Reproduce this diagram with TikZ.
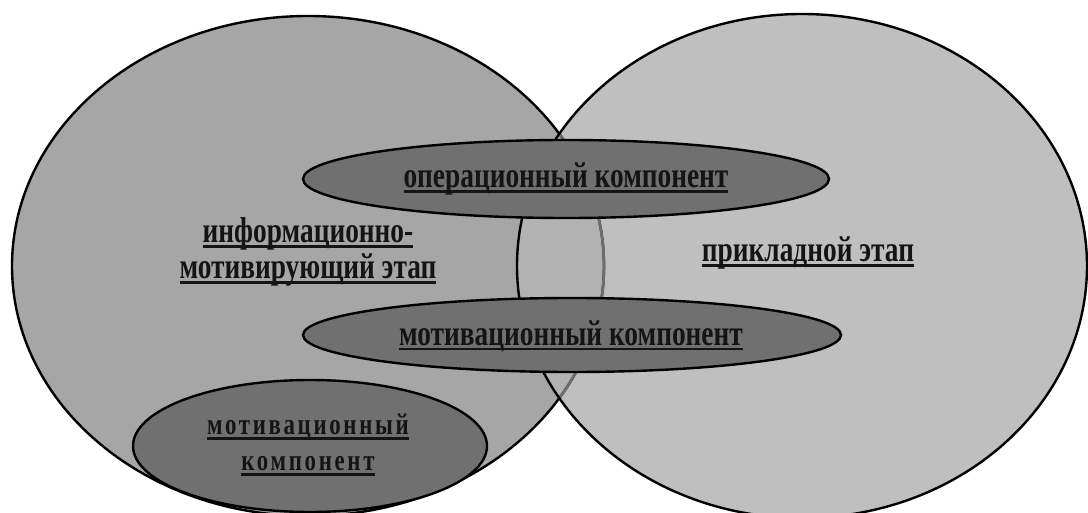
\documentclass[tikz,border=0pt]{standalone}
\usepackage{fontspec}
\setmainfont{Liberation Serif}
\newfontfamily\lblfont[FakeStretch=0.76]{Liberation Serif}
\newfontfamily\lblfontsp[FakeStretch=0.76,LetterSpace=9]{Liberation Serif}
\usetikzlibrary{shapes.geometric}
\definecolor{leftfill}{RGB}{166,166,166}
\definecolor{rightfill}{RGB}{191,191,191}
\definecolor{lensfill}{RGB}{178,178,178}
\definecolor{innerfill}{RGB}{112,112,112}
\definecolor{lensedge}{RGB}{110,110,110}
\definecolor{txt}{RGB}{20,20,20}
\newcommand\myul[1]{\setbox0\hbox{#1}\rlap{\copy0}\rule[-5pt]{\wd0}{2.5pt}}
\begin{document}
\begin{tikzpicture}[x=1pt,y=-1pt,
  edge/.style={line width=2.4pt,draw=black},
  lbl/.style={inner sep=0pt,align=center,text=txt,font=\lblfont\bfseries\fontsize{36}{36}\selectfont},
  lblsp/.style={inner sep=0pt,align=center,text=txt,font=\lblfontsp\bfseries\fontsize{30}{36}\selectfont}]
\useasboundingbox (0,0) rectangle (1088,513);
\fill[white] (0,0) rectangle (1088,513);
\clip (0,0) rectangle (1088,513);
% big ellipses
\fill[leftfill] (308,266) ellipse [x radius=296pt, y radius=250pt];
\fill[rightfill] (802,266) ellipse [x radius=285pt, y radius=252pt];
\begin{scope}
  \clip (308,266) ellipse [x radius=296pt, y radius=250pt];
  \fill[lensfill] (802,266) ellipse [x radius=285pt, y radius=252pt];
\end{scope}
\draw[edge] (308,266) ellipse [x radius=296pt, y radius=250pt];
\begin{scope}
  \clip (802,266) ellipse [x radius=285pt, y radius=252pt];
  \draw[line width=2.6pt,draw=lensedge] (308,266) ellipse [x radius=296pt, y radius=250pt];
\end{scope}
\draw[edge] (802,266) ellipse [x radius=285pt, y radius=252pt];
% inner ellipses
\draw[edge,fill=innerfill] (566,179) ellipse [x radius=263pt, y radius=39pt];
\draw[edge,fill=innerfill] (572,335) ellipse [x radius=269pt, y radius=37pt];
\draw[edge,fill=innerfill] (310,446) ellipse [x radius=177pt, y radius=66pt];
% labels
\node[lbl] (info) at (308,252) {\myul{информационно-}\\\myul{мотивирующий этап}};
\node[lbl,anchor=base] (applied) at (808,262) {\myul{прикладной этап}};
\node[lbl,anchor=base] (oper) at (566,188) {\myul{операционный компонент}};
\node[lbl,anchor=base] (motiv) at (571,345) {\myul{мотивационный компонент}};
\node[lblsp] (motivb) at (308,445) {\myul{мотивационный}\\\myul{компонент}};
\end{tikzpicture}
\end{document}
